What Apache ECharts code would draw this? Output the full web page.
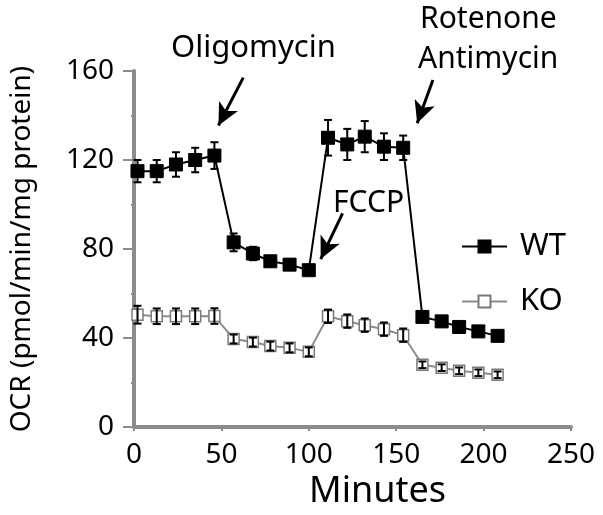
<!DOCTYPE html>
<html><head><meta charset="utf-8">
<script src="https://cdn.jsdelivr.net/npm/echarts@6/dist/echarts.min.js"></script>
<style>html,body{margin:0;padding:0;background:#fff}#c{width:603px;height:515px}</style>
</head><body><div id="c"></div>
<script>
var minutes = [2, 13, 24, 35, 46, 57, 68, 78, 89, 100, 111, 122, 132, 143, 154, 165, 176, 186, 197, 208];
var wtValues = [115, 115, 118, 120, 122, 83, 78, 74.5, 73, 70.5, 130, 127, 130.5, 126, 125.5, 49.5, 47.5, 45, 43, 41];
var wtErrors = [5, 5, 5.5, 5.5, 6, 4, 3, 2, 2, 2, 8, 7, 7, 6, 5.5, 2, 2, 1.5, 1.5, 1.5];
var koValues = [50.5, 49.8, 49.8, 49.8, 49.9, 39.6, 38.2, 36.4, 35.6, 33.8, 49.8, 47.6, 45.8, 44, 41.3, 28, 26.7, 25.3, 24.4, 23.5];
var koErrors = [4, 3.5, 3.5, 3.5, 3.5, 2, 2, 2, 2, 2, 3, 3, 3, 3, 3, 1.5, 1.5, 1.5, 1.5, 1.5];
var xTicks = [0, 50, 100, 150, 200, 250];
var yTicks = [0, 40, 80, 120, 160];
var seriesNames = ['WT', 'KO'];
var FONT = 'Noto Sans';

function pairs(xs, ys){ return xs.map(function(x,i){ return [x, ys[i]]; }); }
function errs(xs, ys, es){ return xs.map(function(x,i){ return [x, ys[i]-es[i], ys[i]+es[i]]; }); }

function errRender(params, api){
  var x = api.value(0), lo = api.value(1), hi = api.value(2);
  var pLo = api.coord([x, lo]), pHi = api.coord([x, hi]);
  var w = 4;
  var st = {stroke:'#000', lineWidth:2};
  return {type:'group', children:[
    {type:'line', shape:{x1:pLo[0], y1:pLo[1], x2:pHi[0], y2:pHi[1]}, style:st},
    {type:'line', shape:{x1:pLo[0]-w, y1:pLo[1], x2:pLo[0]+w, y2:pLo[1]}, style:st},
    {type:'line', shape:{x1:pHi[0]-w, y1:pHi[1], x2:pHi[0]+w, y2:pHi[1]}, style:st}
  ]};
}

var chart = echarts.init(document.getElementById('c'), null, {renderer:'canvas'});
var axisGray = '#8c8c8c';
chart.setOption({
  animation:false,
  backgroundColor:'#fff',
  textStyle:{fontFamily:FONT},
  grid:{left:132, top:71, right:32, bottom:84, containLabel:false},
  xAxis:{
    type:'value', min:xTicks[0], max:xTicks[xTicks.length-1], interval:50,
    name:'Minutes', nameLocation:'middle', nameGap:42,
    nameTextStyle:{fontSize:36, color:'#000', fontFamily:FONT, padding:[0,0,0,50]},
    axisLine:{show:true, onZero:false, lineStyle:{color:axisGray, width:4}},
    axisTick:{show:true, length:4, lineStyle:{color:axisGray, width:2}},
    axisLabel:{fontSize:28, color:'#000', margin:14, fontFamily:FONT},
    splitLine:{show:false}
  },
  yAxis:{
    type:'value', min:yTicks[0], max:yTicks[yTicks.length-1], interval:40,
    name:'OCR (pmol/min/mg protein)', nameLocation:'middle', nameGap:98,
    nameTextStyle:{fontSize:28, color:'#000', fontFamily:FONT},
    axisLine:{show:true, onZero:false, lineStyle:{color:axisGray, width:4}},
    axisTick:{show:true, length:11, lineStyle:{color:axisGray, width:2}},
    minorTick:{show:true, splitNumber:2, length:3, lineStyle:{color:axisGray, width:2}},
    axisLabel:{fontSize:28, color:'#000', margin:20, fontFamily:FONT, padding:[0,0,8,0]},
    splitLine:{show:false}
  },
  legend:{
    orient:'vertical', left:456, top:226, itemGap:24, itemWidth:45, itemHeight:15,
    textStyle:{fontSize:31, color:'#000', fontFamily:FONT, padding:[0,0,0,8]},
    data:seriesNames
  },
  series:[
    {name:'WT', type:'line', data:pairs(minutes, wtValues), symbol:'rect', symbolSize:13,
     lineStyle:{color:'#000', width:2}, itemStyle:{color:'#000', borderColor:'#000', borderWidth:1}, z:3,
     markLine:{silent:true, symbol:['none','arrow'], symbolSize:[16,22], label:{show:false},
       lineStyle:{color:'#000', width:3, type:'solid'},
       data:[
        [{coord:[62.5,157]},{coord:[48.3,135.5]}],
        [{coord:[171,156]},{coord:[162,136.5]}],
        [{coord:[119.3,96]},{coord:[106.8,75.5]}]
       ]}
    },
    {name:'KO', type:'line', data:pairs(minutes, koValues), symbol:'rect', symbolSize:11,
     lineStyle:{color:'#8c8c8c', width:2}, itemStyle:{color:'#fff', borderColor:'#7a7a7a', borderWidth:1.5}, z:3},
    {name:'WT err', type:'custom', data:errs(minutes, wtValues, wtErrors), renderItem:errRender, z:4, silent:true},
    {name:'KO err', type:'custom', data:errs(minutes, koValues, koErrors), renderItem:errRender, z:4, silent:true}
  ],
  graphic:[
    {type:'text', x:171, y:48, style:{text:'Oligomycin', fontSize:31, fill:'#000', fontFamily:FONT, align:'left', verticalAlign:'middle'}},
    {type:'text', x:420, y:19, style:{text:'Rotenone', fontSize:30, fill:'#000', fontFamily:FONT, align:'left', verticalAlign:'middle'}},
    {type:'text', x:418, y:59, style:{text:'Antimycin', fontSize:30, fill:'#000', fontFamily:FONT, align:'left', verticalAlign:'middle'}},
    {type:'text', x:333, y:203, style:{text:'FCCP', fontSize:30, fill:'#000', fontFamily:FONT, align:'left', verticalAlign:'middle'}}
  ]
});
</script></body></html>
